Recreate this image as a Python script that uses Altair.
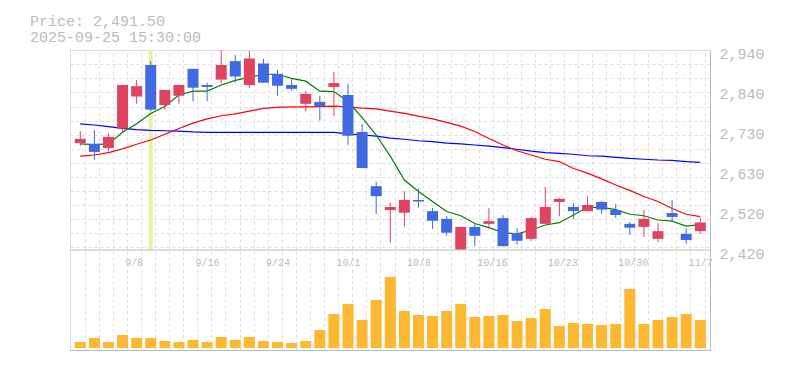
import altair as alt
import numpy as np
import pandas as pd

# ---------------- data ----------------
dates = ["9/2", "9/3", "9/4", "9/5", "9/8", "9/9", "9/10", "9/11", "9/12", "9/16",
         "9/17", "9/18", "9/19", "9/22", "9/24", "9/25", "9/26", "9/29", "9/30",
         "10/1", "10/2", "10/3", "10/6", "10/7", "10/8", "10/9", "10/10", "10/14",
         "10/15", "10/16", "10/17", "10/20", "10/21", "10/22", "10/23", "10/24",
         "10/27", "10/28", "10/29", "10/30", "10/31", "11/4", "11/5", "11/6", "11/7"]

opens = [2698, 2696, 2685, 2736, 2819, 2901, 2797, 2821, 2891, 2849,
         2863, 2911, 2849, 2905, 2878, 2849, 2800, 2805, 2844, 2823,
         2727, 2586, 2524, 2517, 2550, 2521, 2501, 2421, 2480, 2488,
         2503, 2464, 2449, 2488, 2545, 2532, 2521, 2545, 2524, 2488,
         2480, 2449, 2516, 2462, 2469]
highs = [2729, 2732, 2724, 2849, 2862, 2911, 2837, 2850, 2891, 2855,
         2940, 2927, 2937, 2917, 2888, 2866, 2833, 2821, 2883, 2852,
         2748, 2597, 2542, 2573, 2580, 2530, 2508, 2480, 2488, 2529,
         2511, 2477, 2506, 2584, 2555, 2542, 2560, 2547, 2540, 2493,
         2524, 2490, 2550, 2477, 2503]
lows = [2691, 2654, 2677, 2726, 2800, 2782, 2784, 2800, 2807, 2807,
        2853, 2855, 2842, 2855, 2821, 2834, 2780, 2756, 2768, 2693,
        2633, 2514, 2439, 2481, 2530, 2475, 2457, 2420, 2430, 2475,
        2430, 2434, 2444, 2488, 2508, 2501, 2521, 2514, 2503, 2459,
        2454, 2441, 2493, 2436, 2462]
closes = [2709, 2675, 2714, 2849, 2846, 2785, 2836, 2849, 2842, 2844,
          2901, 2871, 2918, 2855, 2847, 2839, 2826, 2794, 2854, 2717,
          2633, 2560, 2532, 2550, 2546, 2496, 2465, 2480, 2457, 2495,
          2430, 2444, 2503, 2532, 2553, 2521, 2537, 2525, 2511, 2478,
          2501, 2469, 2506, 2446, 2491.5]

ma_short = [2696, 2694, 2696, 2726, 2748, 2775, 2793, 2823, 2833, 2833,
            2849, 2861, 2869, 2877, 2877, 2866, 2859, 2833, 2832, 2806,
            2764, 2719, 2664, 2602, 2572, 2546, 2520, 2509, 2489, 2478,
            2465, 2462, 2472, 2485, 2491, 2511, 2531, 2531, 2525, 2513,
            2509, 2498, 2495, 2482, 2486]
ma_mid = [2664, 2667, 2673, 2683, 2695, 2706, 2721, 2736, 2750, 2761,
          2769, 2774, 2781, 2788, 2791, 2792, 2792, 2793, 2794, 2792,
          2789, 2787, 2781, 2775, 2768, 2761, 2752, 2742, 2728, 2710,
          2693, 2678, 2667, 2656, 2650, 2632, 2620, 2605, 2589, 2575,
          2559, 2546, 2528, 2513, 2507]
ma_long = [2748, 2745, 2741, 2736, 2733, 2731, 2730, 2729, 2727, 2726,
           2726, 2726, 2726, 2726, 2726, 2726, 2726, 2726, 2726, 2722,
           2719, 2716, 2711, 2708, 2704, 2702, 2698, 2696, 2693, 2690,
           2686, 2682, 2677, 2673, 2671, 2669, 2665, 2664, 2661, 2658,
           2656, 2654, 2653, 2650, 2648]

# volume (arbitrary units)
volumes = [60, 100, 60, 130, 100, 100, 70, 60, 80, 60,
           110, 80, 110, 70, 60, 50, 70, 180, 340, 440,
           280, 480, 710, 370, 330, 320, 370, 440, 310, 320,
           330, 270, 300, 390, 220, 250, 240, 230, 240, 590,
           240, 280, 310, 340, 280]

price_ticks = [2420, 2524, 2628, 2732, 2836, 2940]
price_tick_labels = ["2,420", "2,520", "2,630", "2,730", "2,840", "2,940"]
date_tick_labels = ["9/8", "9/16", "9/24", "10/1", "10/8", "10/16", "10/23", "10/30", "11/7"]
highlight_date = "9/9"
title_lines = ["Price: 2,491.50", "2025-09-25 15:30:00"]

# ---------------- table ----------------
n = len(dates)
df = pd.DataFrame({
    "i": np.arange(n), "date": dates, "open": opens, "high": highs, "low": lows,
    "close": closes, "ma_s": ma_short, "ma_m": ma_mid, "ma_l": ma_long,
    "volume": volumes,
})
df["dir"] = np.where(df["close"] >= df["open"], "up", "down")

FONT = "Liberation Mono"
GRAY = "#bbbbbb"
GRIDC = "#dddddd"
RED = "#e0435f"
BLUE = "#4169e1"
VOLC = "#fcb733"

X_DOMAIN = [-0.73, 44.69]

def xscale():
    return alt.Scale(domain=X_DOMAIN, nice=False, zero=False, padding=0)

price_scale = alt.Scale(domain=[price_ticks[0], price_ticks[-1]], range=[200, 0],
                        nice=False, zero=False, padding=0)

price_expr = " : ".join(f"datum.value == {v} ? '{t}'" for v, t in zip(price_ticks, price_tick_labels)) + " : ''"
date_idx = [dates.index(d) for d in date_tick_labels]
date_expr = " : ".join(f"datum.value == {i} ? '{t}'" for i, t in zip(date_idx, date_tick_labels)) + " : ''"

price_axis = alt.Axis(orient="right", values=price_ticks, labelExpr=price_expr,
                      labelFont=FONT, labelFontSize=15, labelColor=GRAY, labelPadding=9,
                      labelAlign="left", labelBaseline="middle", labelOffset=3,
                      labelFlush=False, labelOverlap=False,
                      ticks=False, domain=True, domainColor=GRAY, grid=False, title=None)

color_enc = alt.Color("dir:N", scale=alt.Scale(domain=["up", "down"], range=[RED, BLUE]), legend=None)
xenc = alt.X("i:Q", scale=xscale(), axis=None)

base = alt.Chart(df)

band = base.transform_filter(alt.datum.date == highlight_date).transform_calculate(
    ptop=str(price_ticks[-1]), pbot=str(price_ticks[0])
).mark_rule(color="#e4f4a6", strokeWidth=4).encode(
    x=xenc,
    y=alt.Y("ptop:Q", scale=price_scale, axis=price_axis),
    y2="pbot:Q",
)

line_l = base.mark_line(color="#0000ff", strokeWidth=1.2).encode(x=xenc, y=alt.Y("ma_l:Q"))
line_m = base.mark_line(color="#ff0000", strokeWidth=1.2).encode(x=xenc, y=alt.Y("ma_m:Q"))
line_s = base.mark_line(color="#008000", strokeWidth=1.2).encode(x=xenc, y=alt.Y("ma_s:Q"))

wicks = base.mark_rule(strokeWidth=1).encode(x=xenc, y="low:Q", y2="high:Q", color=color_enc)
bodies = base.mark_bar(size=11).encode(x=xenc, y="open:Q", y2="close:Q", color=color_enc)

sep = alt.Chart(pd.DataFrame({"v": [price_ticks[0]]})).mark_rule(color=GRAY, strokeWidth=1).encode(
    y=alt.Y("v:Q"))

price = alt.layer(band, line_l, line_m, line_s, wicks, bodies, sep)

date_axis = alt.Axis(orient="bottom", values=date_idx, labelExpr=date_expr,
                     labelFont=FONT, labelFontSize=10, labelColor=GRAY,
                     labelAlign="left", labelBaseline="middle", labelOffset=-12,
                     labelPadding=-88, ticks=False, tickSize=0, labelFlush=False,
                     labelOverlap=False, domain=True, domainColor=GRAY, grid=False, title=None)

volume = base.mark_bar(size=11, color=VOLC).encode(
    x=alt.X("i:Q", scale=xscale(), axis=date_axis),
    y=alt.Y("volume:Q", scale=alt.Scale(domain=[-20, 980], range=[300, 200], nice=False,
                                        zero=False, padding=0),
            axis=alt.Axis(orient="right", labels=False, ticks=False, grid=False,
                          domain=True, domainColor=GRAY, title=None)),
    y2=alt.datum(0),
)

vgrid = [round(k + 0.3, 2) for k in range(-1, n)]
hgrid = [round(0.3 + 14.05 * k, 2) for k in range(15)]
grid = alt.Chart(pd.DataFrame({"gx": [0.0], "gy": [0.0]})).mark_point(opacity=0).encode(
    x=alt.X("gx:Q", scale=alt.Scale(domain=X_DOMAIN, nice=False, zero=False, padding=0),
            axis=alt.Axis(orient="bottom", values=vgrid, grid=True, gridColor=GRIDC,
                          gridDash=[3, 3], labels=False, ticks=False, domain=False, title=None)),
    y=alt.Y("gy:Q", scale=alt.Scale(domain=[0, 300], range=[0, 300], nice=False, zero=False, padding=0),
            axis=alt.Axis(orient="left", values=hgrid, grid=True, gridColor=GRIDC,
                          gridDash=[3, 3], labels=False, ticks=False, domain=False, title=None)),
)

chart = alt.layer(grid, price, volume).resolve_scale(
    x="independent", y="independent", color="independent"
).resolve_axis(x="independent", y="independent").properties(
    width=640, height=300,
    title=alt.TitleParams(text=title_lines, anchor="start", frame="group", dx=-40, dy=-1, offset=0,
                          font=FONT, fontSize=15, fontWeight="normal", color=GRAY, lineHeight=16),
    autosize=alt.AutoSizeParams(type="none"),
    padding={"left": 62, "top": 42, "right": 67, "bottom": 12},
).configure_view(stroke=None).configure(background="white")

chart.save("out.html", embed_options={"renderer": "svg", "actions": False})
